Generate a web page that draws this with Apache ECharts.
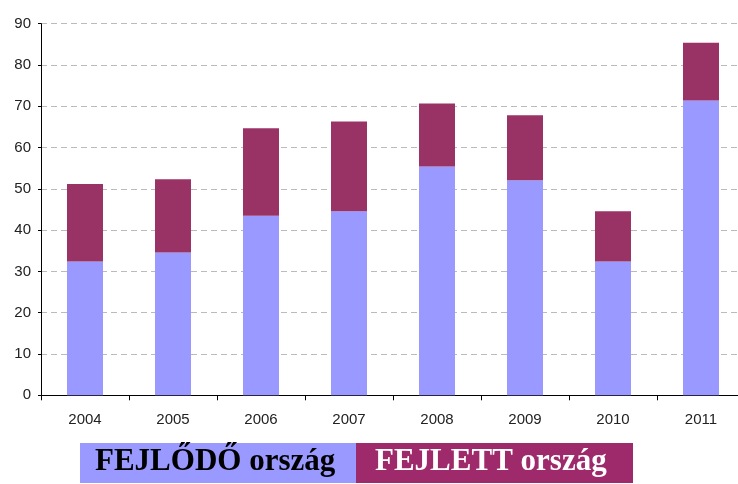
<!DOCTYPE html>
<html>
<head>
<meta charset="utf-8">
<script src="https://cdn.jsdelivr.net/npm/echarts@6/dist/echarts.min.js"></script>
<style>
  html, body { margin: 0; padding: 0; background: #fff; overflow: hidden; }
  #chart { width: 746px; height: 484px; }
</style>
</head>
<body>
<div id="chart"></div>
<script>
// évek és értékek
const years = ['2004', '2005', '2006', '2007', '2008', '2009', '2010', '2011'];
const fejlodo = [32.4, 34.6, 43.5, 44.6, 55.4, 52.1, 32.4, 71.4];
const fejlett = [18.8, 17.7, 21.2, 21.7, 15.3, 15.7, 12.2, 14.0];
const seriesNames = ['FEJLŐDŐ ország', 'FEJLETT ország'];

// a diagram jobb széle kilóg a 738px-es ablakból, ezért szélesebb a tároló
const chart = echarts.init(document.getElementById('chart'));
const option = {
  animation: false,
  grid: { left: 41, right: 1, top: 23.7, bottom: 88.7 },
  xAxis: {
    type: 'category',
    data: years,
    axisLine: { lineStyle: { color: '#000', width: 1 } },
    axisTick: { show: true, length: 5, lineStyle: { color: '#000' } },
    axisLabel: { color: '#222', fontFamily: 'Liberation Sans', fontSize: 15, margin: 17 }
  },
  yAxis: {
    type: 'value',
    min: 0,
    max: 90,
    interval: 10,
    axisLine: { show: true, lineStyle: { color: '#000', width: 1 } },
    axisTick: { show: true, length: 3, lineStyle: { color: '#000' } },
    axisLabel: { color: '#222', fontFamily: 'Liberation Sans', fontSize: 15, margin: 10 },
    splitLine: { lineStyle: { color: '#bbb', type: [6, 4], width: 1 } }
  },
  series: [
    {
      name: seriesNames[0],
      type: 'bar',
      stack: 'total',
      barWidth: 36,
      data: fejlodo,
      itemStyle: { color: '#9999FF' }
    },
    {
      name: seriesNames[1],
      type: 'bar',
      stack: 'total',
      barWidth: 36,
      data: fejlett,
      itemStyle: { color: '#993366' }
    }
  ],
  graphic: [
    { type: 'rect', left: 80, top: 443, shape: { width: 276, height: 40 }, style: { fill: '#9999FF' } },
    { type: 'rect', left: 356, top: 443, shape: { width: 277, height: 40 }, style: { fill: '#9E2A6C' } },
    {
      type: 'text', left: 95, top: 446,
      style: { text: seriesNames[0], fill: '#000', font: 'bold 31px "Liberation Serif"' }
    },
    {
      type: 'text', left: 375, top: 446,
      style: { text: seriesNames[1], fill: '#fff', font: 'bold 31px "Liberation Serif"' }
    }
  ]
};
chart.setOption(option);
</script>
</body>
</html>
